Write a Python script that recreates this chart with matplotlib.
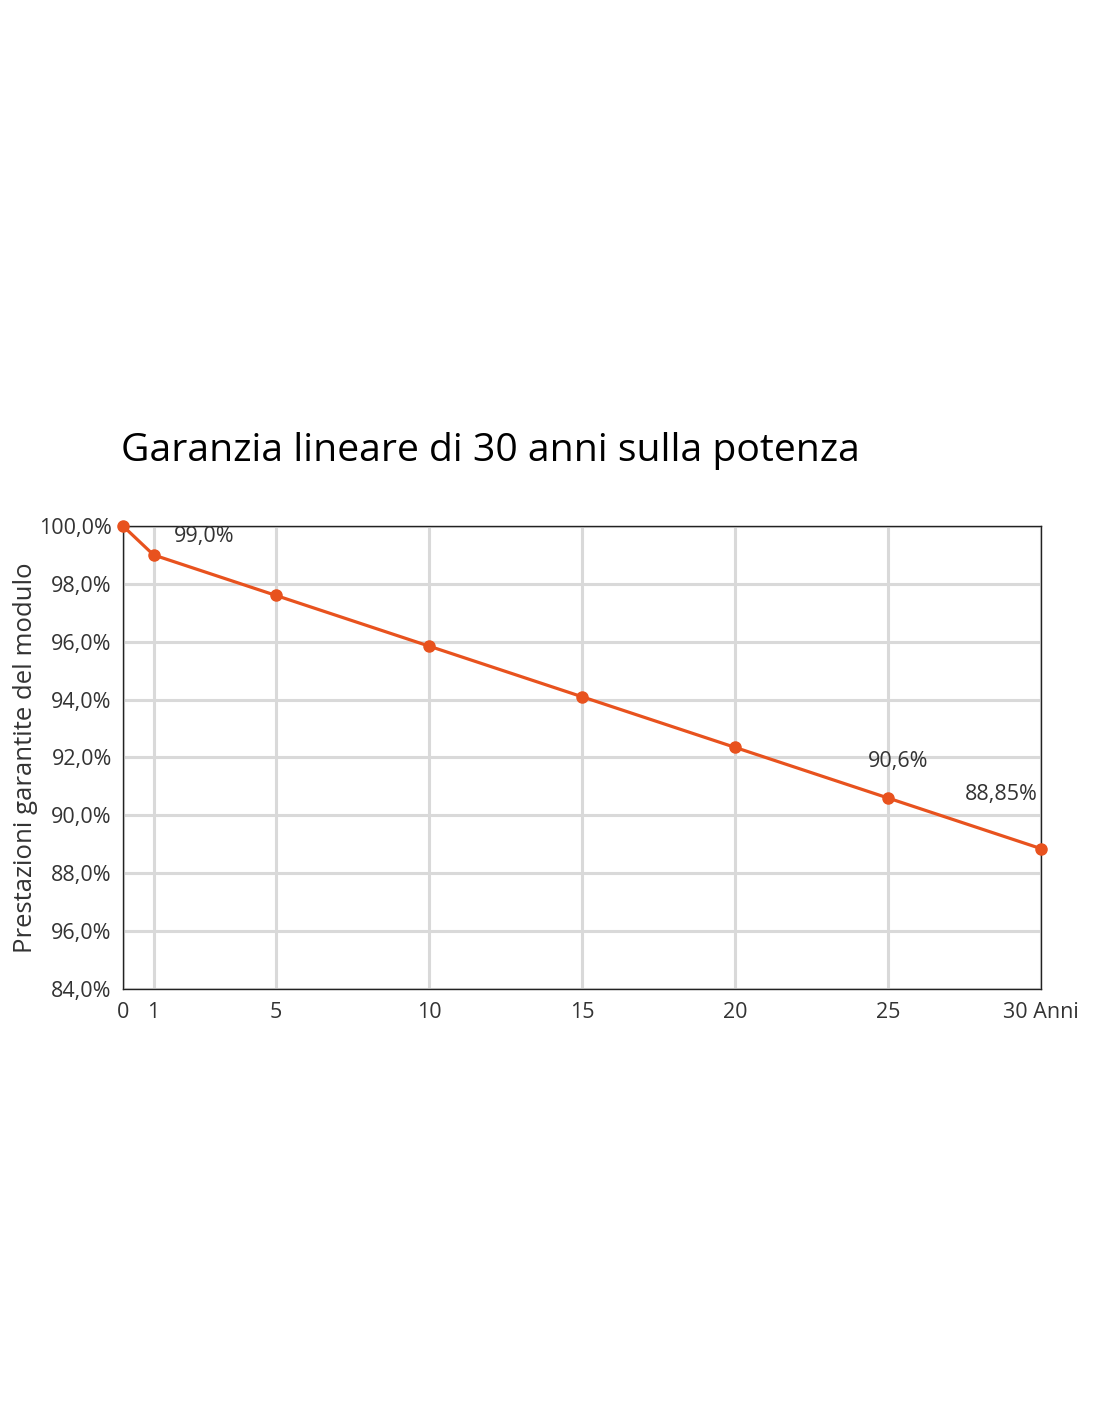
import matplotlib
matplotlib.use("Agg")
import matplotlib.pyplot as plt

# ── data ──────────────────────────────────────────────────────────────────────
years = [0, 1, 5, 10, 15, 20, 25, 30]
performance = [100.0, 99.0, 97.6, 95.85, 94.1, 92.35, 90.6, 88.85]

x_ticks = [0, 1, 5, 10, 15, 20, 25, 30]
x_tick_labels = ["0", "1", "5", "10", "15", "20", "25", "30 Anni"]
y_ticks = [84, 86, 88, 90, 92, 94, 96, 98, 100]
y_tick_labels = ["84,0%", "96,0%", "88,0%", "90,0%", "92,0%",
                 "94,0%", "96,0%", "98,0%", "100,0%"]

annot_years = [1, 25, 30]
annot_values = [99.0, 90.6, 88.85]
annot_texts = ["99,0%", "90,6%", "88,85%"]

title = "Garanzia lineare di 30 anni sulla potenza"
ylabel = "Prestazioni garantite del modulo"

ORANGE = "#e8521e"
GRID = "#d9d9d9"
TEXT = "#333333"

plt.rcParams["font.family"] = ["Open Sans", "DejaVu Sans"]

fig = plt.figure(figsize=(11, 14.22), dpi=100)
ax = fig.add_axes([0.1118, 0.3045, 0.8346, 0.3256])

ax.plot(years, performance, color=ORANGE, linewidth=2.3, marker="o",
        markersize=8, clip_on=False, zorder=4)

ax.set_xlim(0, 30)
ax.set_ylim(84, 100)
ax.set_xticks(x_ticks)
ax.set_xticklabels(x_tick_labels)
ax.set_yticks(y_ticks)
ax.set_yticklabels(y_tick_labels)
ax.tick_params(axis="both", length=0, labelsize=15.5, labelcolor=TEXT, pad=9)
ax.tick_params(axis="y", pad=8)

ax.grid(True, color=GRID, linewidth=2.2)
ax.set_axisbelow(True)
for side in ["left", "bottom", "top", "right"]:
    ax.spines[side].set_color("#222222")
    ax.spines[side].set_linewidth(1.0)

ax.set_ylabel(ylabel, fontsize=18.5, color=TEXT, labelpad=1)

# value labels
offsets = [(14.7, 13), (-14.4, 26.6), (-55, 39)]
for xv, yv, txt, (dx, dy) in zip(annot_years, annot_values, annot_texts, offsets):
    ax.annotate(txt, (xv, yv), xytext=(dx, dy), textcoords="offset points",
                fontsize=15.5, color=TEXT, ha="left", va="center")

fig.text(0.11, 0.683, title, fontsize=28.2, color="#000000", ha="left",
         va="center")

fig.savefig("out.png", dpi=100)
